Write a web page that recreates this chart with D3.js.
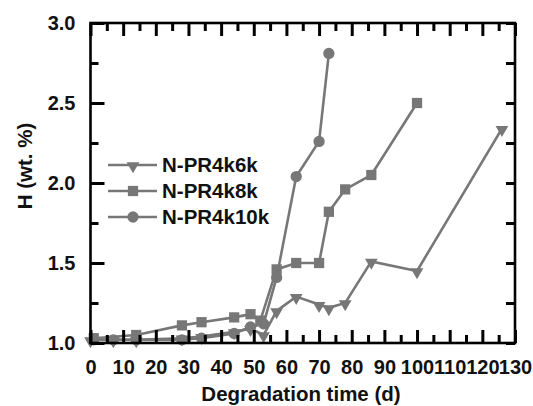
<!DOCTYPE html>
<html lang="en">
<head>
    <meta charset="UTF-8">
    <title>H content vs degradation time</title>
    <script src="https://d3js.org/d3.v7.min.js"></script>
    <style>
        body { margin: 0; background: #fff; }
        text { font-family: "Liberation Sans", Arial, sans-serif; font-weight: bold; fill: #111; }
        .series { fill: none; stroke: #777; stroke-width: 2.6; }
        .marker { fill: #777; }
    </style>
</head>
<body>
<svg id="chart" width="533" height="406"></svg>

<script>
    // data (days, wt.%)
    const days6k = [0, 7, 14, 28, 34, 44, 49, 53, 57, 63, 70, 73, 78, 86, 100, 126];
    const h6k    = [1.02, 1.02, 1.02, 1.03, 1.04, 1.07, 1.09, 1.05, 1.20, 1.29, 1.24, 1.22, 1.25, 1.51, 1.45, 2.34];

    const days8k = [1, 14, 28, 34, 44, 49, 52, 57, 63, 70, 73, 78, 86, 100];
    const h8k    = [1.03, 1.05, 1.11, 1.13, 1.16, 1.18, 1.14, 1.46, 1.50, 1.50, 1.82, 1.96, 2.05, 2.50];

    const days10k = [1, 7, 14, 28, 34, 44, 49, 53, 57, 63, 70, 73];
    const h10k    = [1.02, 1.02, 1.02, 1.02, 1.03, 1.06, 1.10, 1.12, 1.41, 2.04, 2.26, 2.81];

    const seriesNames = ["N-PR4k6k", "N-PR4k8k", "N-PR4k10k"];
    const xTicks = [0, 10, 20, 30, 40, 50, 60, 70, 80, 90, 100, 110, 120, 130];
    const yTicks = [1.0, 1.5, 2.0, 2.5, 3.0];
    const minorX = [5, 15, 25, 35, 45, 55, 65, 75, 85, 95, 105, 115, 125];
    const minorY = [1.25, 1.75, 2.25, 2.75];

    const series = [
        { name: seriesNames[0], x: days6k, y: h6k, shape: "tri" },
        { name: seriesNames[1], x: days8k, y: h8k, shape: "sq" },
        { name: seriesNames[2], x: days10k, y: h10k, shape: "circ" }
    ];

    const plotL = 90.5, plotR = 515, plotT = 23, plotB = 343;
    const x = d3.scaleLinear().domain([0, 130]).range([plotL, plotR]);
    const y = d3.scaleLinear().domain([1, 3]).range([plotB, plotT]);

    const svg = d3.select("#chart");

    function symbolFor(shape) {
        if (shape === "tri") return d3.symbol().type(d3.symbolTriangle).size(70)();
        if (shape === "sq") return d3.symbol().type(d3.symbolSquare).size(105)();
        return d3.symbol().type(d3.symbolCircle).size(100)();
    }
    function markerTransform(shape, px, py) {
        // triangles point down
        return shape === "tri" ? `translate(${px},${py + 1}) rotate(180)` : `translate(${px},${py})`;
    }

    // lines + markers
    const lineGen = d3.line().x(d => x(d[0])).y(d => y(d[1]));
    series.forEach(s => {
        const pts = s.x.map((d, i) => [d, s.y[i]]);
        svg.append("path").datum(pts).attr("class", "series").attr("d", lineGen);
        svg.append("g").selectAll("path").data(pts).join("path")
            .attr("class", "marker")
            .attr("d", symbolFor(s.shape))
            .attr("transform", d => markerTransform(s.shape, x(d[0]), y(d[1])));
    });

    // tick labels
    svg.append("g").attr("class", "lab").attr("transform", `translate(0,${plotB})`)
        .call(d3.axisBottom(x).tickValues(xTicks).tickSize(0).tickPadding(17).tickFormat(d3.format("d")));
    svg.append("g").attr("class", "lab").attr("transform", `translate(${plotL},0)`)
        .call(d3.axisLeft(y).tickValues(yTicks).tickSize(0).tickPadding(15).tickFormat(d3.format(".1f")));
    svg.selectAll(".lab .domain").remove();
    svg.selectAll(".lab .tick text").attr("font-size", 20).attr("fill", "#111");

    // inward tick marks: axes flipped onto the inner side of each edge
    function marks(axis, tx, ty) {
        const g = svg.append("g").attr("transform", `translate(${tx},${ty})`).call(axis.tickFormat(""));
        g.select(".domain").remove();
        g.selectAll(".tick line").attr("stroke", "#000").attr("stroke-width", 3);
    }
    marks(d3.axisTop(x).tickValues(xTicks).tickSize(13), 0, plotB);
    marks(d3.axisTop(x).tickValues(minorX).tickSize(8), 0, plotB);
    marks(d3.axisBottom(x).tickValues(xTicks).tickSize(13), 0, plotT);
    marks(d3.axisBottom(x).tickValues(minorX).tickSize(8), 0, plotT);
    marks(d3.axisRight(y).tickValues(yTicks).tickSize(14), plotL, 0);
    marks(d3.axisRight(y).tickValues(minorY).tickSize(8), plotL, 0);
    marks(d3.axisLeft(y).tickValues(yTicks.concat(minorY)).tickSize(9), plotR, 0);

    // frame
    svg.append("rect")
        .attr("x", plotL).attr("y", plotT).attr("width", plotR - plotL).attr("height", plotB - plotT)
        .attr("fill", "none").attr("stroke", "#000").attr("stroke-width", 2.6);

    // axis titles
    svg.append("text").attr("x", 301).attr("y", 401)
        .attr("text-anchor", "middle").attr("font-size", 20.5).text("Degradation time (d)");
    svg.append("text").attr("transform", "translate(32,166) rotate(-90)")
        .attr("text-anchor", "middle").attr("font-size", 20.5).text("H (wt. %)");

    // legend
    const legend = svg.append("g");
    series.forEach((s, i) => {
        const ly = 165 + i * 26;
        legend.append("line").attr("x1", 108).attr("x2", 157).attr("y1", ly).attr("y2", ly)
            .attr("stroke", "#777").attr("stroke-width", 2.6);
        legend.append("path").attr("class", "marker").attr("d", symbolFor(s.shape))
            .attr("transform", markerTransform(s.shape, 133, ly));
        legend.append("text").attr("x", 162).attr("y", ly + 7).attr("font-size", 20.5).text(s.name);
    });
</script>
</body>
</html>
